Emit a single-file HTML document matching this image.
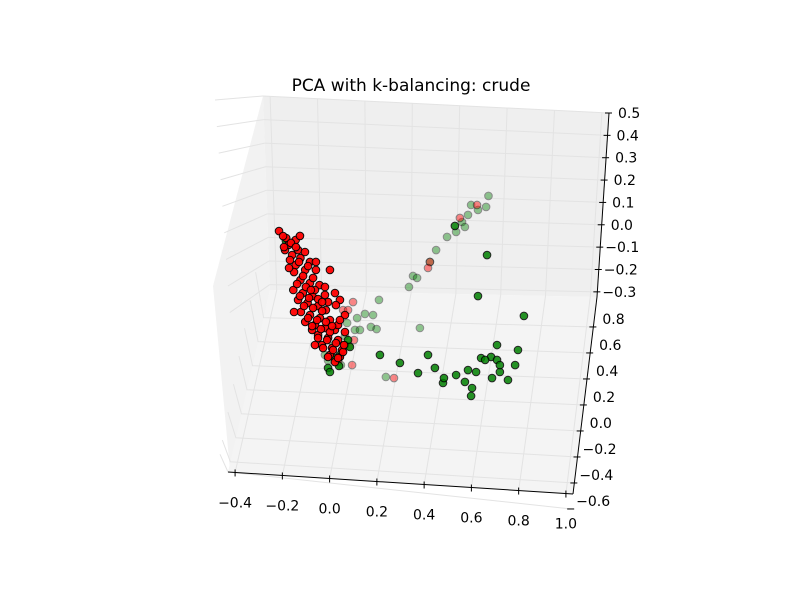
<!DOCTYPE html>
<html><head><meta charset="utf-8"><style>
body{margin:0;background:#fff;}
svg text{font-family:"DejaVu Sans","Liberation Sans",sans-serif;font-size:14px;fill:#000;}
</style></head><body>
<svg id="chart" width="800" height="600" viewBox="0 0 800 600">
<rect width="800" height="600" fill="#fff"/>
<text x="411" y="91" text-anchor="middle" style="font-size:17px">PCA with k-balancing: crude</text>
<polygon points="263,96 270,290 230,470 213,286" fill="#f2f2f2"/>
<polygon points="263,96 609,113 597,297 270,290" fill="#efefef"/>
<polygon points="270,290 597,297 573,494 228,472" fill="#f4f4f4"/>
<g id="grid" stroke="#e3e3e3" stroke-width="1" fill="none"></g>
<g id="axes" stroke="#000" stroke-width="1"></g>
<g id="labels"></g>
<g id="points"></g>
</svg>
<script>
const xTicks=[-0.4,-0.2,0.0,0.2,0.4,0.6,0.8,1.0];
const yTicks=[0.8,0.6,0.4,0.2,0.0,-0.2,-0.4,-0.6];
const zTicks=[0.5,0.4,0.3,0.2,0.1,0.0,-0.1,-0.2,-0.3];
// projected point data: horizontal (x units), vertical (y units)
const redX=[-0.21,-0.18,-0.14,-0.17,-0.13,-0.155,-0.12,-0.08,-0.14,-0.1,-0.055,0.004,-0.12,-0.08,-0.04,-0.15,-0.11,-0.07,-0.017,0.025,-0.13,-0.09,-0.046,-0.004,0.046,-0.118,-0.08,-0.038,0.004,-0.059,-0.017,0.025,-0.046,-0.004,0.038,-0.03,0.013,0.055,0.004,0.046,0.025,-0.071,-0.1,-0.147,0.067,0.038,-0.059,-0.013,-0.122,-0.185,
-0.193,-0.160,-0.189,-0.139,-0.164,-0.126,-0.088,-0.147,-0.109,-0.067,-0.134,-0.097,-0.059,-0.122,-0.084,-0.046,-0.105,-0.067,-0.029,-0.088,-0.050,-0.013,-0.071,-0.034,0.004,-0.046,-0.008,0.029,-0.025,0.017,0.059,-0.004,0.038,0.063,0.013,-0.029,-0.101,-0.076,-0.168,-0.055,-0.017,0.029,0.046,0.067];
const redY=[1.45,1.397,1.382,1.344,1.305,1.267,1.244,1.214,1.19,1.153,1.153,1.153,1.076,1.053,1.038,1.0,0.977,0.954,0.962,0.977,0.924,0.901,0.878,0.908,0.924,0.832,0.809,0.786,0.771,0.733,0.71,0.695,0.656,0.634,0.618,0.58,0.557,0.542,0.504,0.489,0.45,0.695,0.756,0.832,0.809,0.733,0.58,0.847,1.413,1.305,
1.412,1.359,1.328,1.328,1.229,1.214,1.183,1.137,1.107,1.092,1.046,1.023,1.0,0.954,0.939,0.931,0.878,0.863,0.840,0.786,0.771,0.756,0.725,0.702,0.679,0.634,0.618,0.595,0.557,0.542,0.527,0.489,0.481,0.580,0.725,0.908,1.290,1.0,1.168,1.214,1.023,0.885,0.771,0.679];
const redFX=[0.101,0.059,0.105,0.097,0.08,0.424,0.416,0.55,0.622,0.273,0.038,0.084];
const redFY=[0.908,0.847,0.618,0.427,0.847,1.214,1.168,1.55,1.649,0.328,0.45,0.573];
const greenX=[-0.181,-0.004,0.004,0.046,0.067,0.08,0.214,0.529,0.626,0.664,0.819,0.706,0.681,0.571,0.479,0.639,0.584,0.618,0.706,0.752,0.794,0.782,0.483,0.601,0.597,0.685,0.718,0.534,0.088,0.042,0.025,0.298,0.374,0.445,0.416,0.656,0.718];
const greenY=[1.374,0.405,0.374,0.504,0.58,0.618,0.504,1.489,0.954,1.267,0.802,0.58,0.489,0.298,0.29,0.481,0.389,0.374,0.466,0.313,0.542,0.427,0.328,0.252,0.191,0.328,0.374,0.351,0.565,0.42,0.481,0.443,0.366,0.405,0.504,0.466,0.427];
const greenFX=[0.67,0.626,0.584,0.597,0.559,0.496,0.534,0.424,0.45,0.353,0.336,0.37,0.210,0.185,0.151,0.176,0.2,0.118,0.239,0.076,0.017,-0.004,0.067,0.109,-0.017,0.05,0.13,0.382,0.66,0.571];
const greenFY=[1.718,1.611,1.573,1.649,1.519,1.405,1.443,1.214,1.305,1.107,1.023,1.092,0.924,0.809,0.817,0.718,0.702,0.786,0.336,0.748,0.576,0.462,0.649,0.695,0.504,0.427,0.695,0.710,1.634,1.481];
function sx(v){return 329+v*238;}
function sy(v){return 421-v*131;}
const NS='http://www.w3.org/2000/svg';
function mk(tag,attrs,parent){const e=document.createElementNS(NS,tag);for(const k in attrs)e.setAttribute(k,attrs[k]);parent.appendChild(e);return e;}
function fmt(v){return (v<0?'\u2212':'')+Math.abs(v).toFixed(1);}
const grid=document.getElementById('grid'),axes=document.getElementById('axes'),labels=document.getElementById('labels'),pts=document.getElementById('points');
function lerp(a,b,t){return [a[0]+(b[0]-a[0])*t,a[1]+(b[1]-a[1])*t];}
const FL=[270,290],FR=[597,297],NR=[573,494],NL=[228,472],TL=[263,96],TR=[609,113];
xTicks.forEach((v,i)=>{const t=(i+0.15)/7.3;const n=lerp(NL,NR,t),f=lerp(FL,FR,t),b=lerp(TL,TR,t);
const l=mk('polyline',{points:`${n[0]},${n[1]} ${f[0]},${f[1]} ${b[0]},${b[1]}`},grid);

const tk=mk('line',{x1:n[0],y1:n[1]-3,x2:n[0],y2:n[1]+4},axes);

const tx=mk('text',{x:n[0],y:n[1]+35,'text-anchor':'middle'},labels);tx.textContent=fmt(v);
});
yTicks.forEach((v,i)=>{const t=0.152+i*0.132;const r=lerp(FR,NR,t),l=lerp(FL,NL,Math.min(t,1));
const g=mk('polyline',{points:`${r[0]},${r[1]} ${l[0]},${l[1]} ${l[0]-8},${l[1]-50+t*30}`},grid);

const tk=mk('line',{x1:r[0]-4,y1:r[1],x2:r[0]+3,y2:r[1]},axes);

const tx=mk('text',{x:r[0]+(v<0?5:9),y:r[1]-3},labels);tx.textContent=fmt(v);
});
zTicks.forEach((v,i)=>{const t=i*0.1215;const r=lerp(TR,FR,t),l=lerp(TL,FL,t);
const g=mk('line',{x1:r[0],y1:r[1],x2:l[0],y2:l[1]},grid);

const lw=mk('line',{x1:l[0],y1:l[1],x2:l[0]-48+i,y2:l[1]+4+i*3},grid);

const tk=mk('line',{x1:r[0]-4,y1:r[1],x2:r[0]+3,y2:r[1]},axes);

const tx=mk('text',{x:r[0]+(v<0?5:9),y:r[1]+5},labels);tx.textContent=fmt(v);
});
[[NL,NR],[FR,NR],[TR,FR]].forEach(p=>{const a=mk('line',{x1:p[0][0],y1:p[0][1],x2:p[1][0],y2:p[1][1]},axes);
});
function draw(X,Y,fill,op,name){X.forEach((x,i)=>{const c=mk('circle',{cx:sx(x),cy:sy(Y[i]),r:3.8,fill:fill,stroke:'#000','stroke-width':1,opacity:op},pts);
});}
draw(greenFX,greenFY,'#008000',0.42,'green-point-faded');
draw(redFX,redFY,'#ff0000',0.45,'red-point-faded');
draw(greenX,greenY,'#008000',0.85,'green-point');
draw(redX,redY,'#ff0000',0.95,'red-point');
</script>
</body></html>
